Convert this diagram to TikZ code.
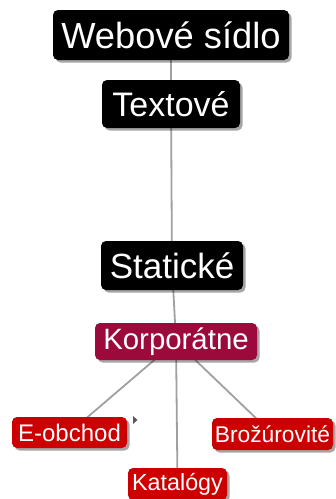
\documentclass[tikz,border=0pt]{standalone}
\usepackage{fontspec}
\setmainfont{Liberation Sans}
\usetikzlibrary{shadows,backgrounds}
\definecolor{topicblack}{HTML}{000000}
\definecolor{corpred}{HTML}{9C0A3B}
\definecolor{leafred}{HTML}{CC0000}
\definecolor{linkgray}{HTML}{A0A0A0}
\tikzset{
  topic/.style={rounded corners=5pt, text=white, inner sep=0pt, align=center,
    drop shadow={shadow xshift=2.5pt, shadow yshift=-2.5pt, opacity=0.35, fill=black}},
  darktopic/.style={topic, fill=topicblack},
  corptopic/.style={topic, fill=corpred},
  leaftopic/.style={topic, fill=leafred},
  link/.style={draw=linkgray, line width=1.8pt},
  marker/.style={fill=black!65, draw=none}
}
\begin{document}
\begin{tikzpicture}[x=1pt, y=-1pt]
  \useasboundingbox (0,0) rectangle (336,499);
  \node[darktopic, minimum width=236pt, minimum height=50pt, font=\fontsize{36.3}{36}\selectfont] (web) at (171,35) {Webové sídlo};
  \node[darktopic, minimum width=138pt, minimum height=48pt, font=\fontsize{34}{34}\selectfont] (text) at (171,104) {Textové};
  \node[darktopic, minimum width=142pt, minimum height=49pt, font=\fontsize{35}{35}\selectfont] (stat) at (172,265.5) {Statické};
  \node[corptopic, minimum width=162pt, minimum height=37pt, font=\fontsize{29.4}{29}\selectfont] (corp) at (176,341.5) {Korporátne};
  \node[leaftopic, minimum width=115pt, minimum height=31pt, font=\fontsize{24}{24}\selectfont] (eshop) at (69.5,432.5) {E-obchod};
  \node[leaftopic, minimum width=121pt, minimum height=32pt, font=\fontsize{22.8}{23}\selectfont] (broz) at (272.5,434) {Brožúrovité};
  \node[leaftopic, minimum width=99pt, minimum height=32pt, font=\fontsize{23.3}{23}\selectfont] (kat) at (177.5,484) {Katalógy};
  \begin{scope}[on background layer]
    \draw[link] (web.center) -- (text.center);
    \draw[link] (text.center) -- (stat.center);
    \draw[link] (stat.center) -- (corp.center);
    \draw[link] (corp.center) -- (eshop.center);
    \draw[link] (corp.center) -- (kat.center);
    \draw[link] (corp.center) -- (broz.center);
  \end{scope}
  % collapse marker beside E-obchod
  \coordinate (mk) at (133,420);
  \fill[marker] (mk) ++(0,-4) -- ++(4.5,4) -- ++(-4.5,4) -- cycle;
\end{tikzpicture}
\end{document}
